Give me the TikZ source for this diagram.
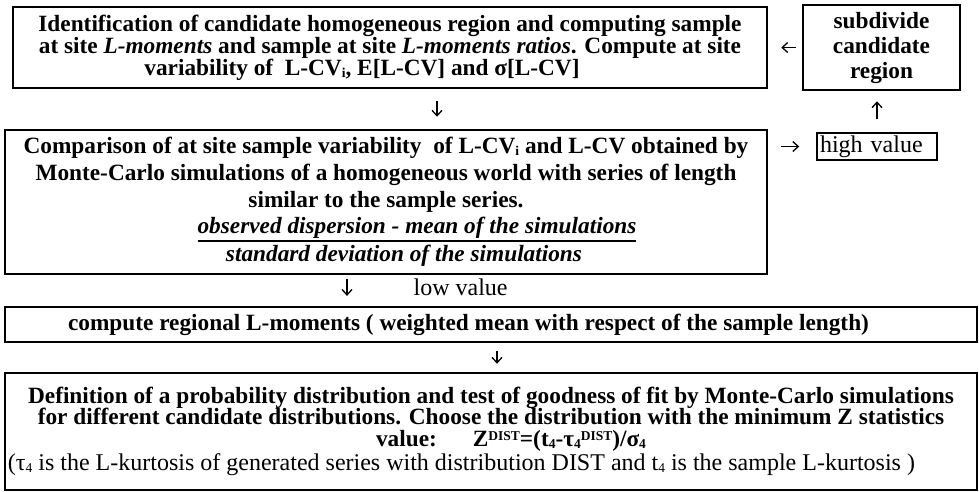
\documentclass[tikz,border=0pt]{standalone}
\usepackage{fontspec}
\setmainfont{Liberation Serif}
\usetikzlibrary{positioning,arrows.meta,calc}
\setlength{\lineskiplimit}{-40pt}

\newcommand{\stepfont}{\fontsize{23.3pt}{22pt}\selectfont\bfseries}
\newcommand{\labelfont}{\fontsize{24pt}{22pt}\selectfont}
% bar under the numerator of the ratio
\newcommand{\ratiotop}[1]{\setbox0=\hbox{#1}\rlap{\rule[-8.5pt]{\wd0}{1.8pt}}\box0}
\newcommand{\up}[1]{\raisebox{6pt}{\fontsize{13.5pt}{13.5pt}\selectfont #1}}
\newcommand{\dn}[1]{\raisebox{-2pt}{\fontsize{13.5pt}{13.5pt}\selectfont #1}}

\tikzset{
    stepbox/.style={
        draw=black, fill=white, line width=2.5pt,
        inner sep=0pt, font=\stepfont, align=center
    },
    valuebox/.style={
        draw=black, fill=white, line width=1.5pt,
        inner xsep=3pt, inner ysep=0pt, font=\labelfont, align=left
    },
    arrow/.style={-{Straight Barb[length=5.5pt,width=10pt]}, line width=1.3pt},
}

\begin{document}
\begin{tikzpicture}[x=1pt, y=-1pt]
    \useasboundingbox (0,0) rectangle (979,491);
    % procedure boxes
    \node[stepbox, minimum width=754pt, minimum height=81pt] (ident) at (390,47.5)
        {Identification of candidate homogeneous region and computing sample\\
         at site \textit{L-moments} and sample at site \textit{L-moments ratios}. Compute at site\\
         variability of\ \ L-CV\dn{i}, E[L-CV] and σ[L-CV]\hspace*{56pt}};
    \node[stepbox, minimum width=157pt, minimum height=85pt, font=\fontsize{23.3pt}{25pt}\selectfont\bfseries] (subdiv) at (881.5,47.5)
        {subdivide\\ candidate\\ region};
    \node[stepbox, minimum width=762pt, minimum height=144pt, font=\fontsize{23.3pt}{26.7pt}\selectfont\bfseries] (compar) at (386,202)
        {Comparison of at site sample variability\ \ of L-CV\dn{i} and L-CV obtained by\\
         Monte-Carlo simulations of a homogeneous world with series of length\\
         similar to the sample series.\\
         \hspace*{62pt}\ratiotop{\textit{observed dispersion - mean of the simulations}}\\[1.3pt]
         \hspace*{36pt}\textit{standard deviation of the simulations}};
    \node[valuebox, text width=114pt, minimum height=27pt] (high) at (877,146.5) {high value};
    \node[stepbox, minimum width=972pt, minimum height=35pt, line width=2.2pt] (regional) at (491,324.5)
        {compute regional L-moments ( weighted mean with respect of the sample length)\hspace*{45pt}};
    \node[stepbox, minimum width=972pt, minimum height=117pt, font=\fontsize{23.3pt}{21pt}\selectfont\bfseries] (defin) at (491,431.5)
        {Definition of a probability distribution and test of goodness of fit by Monte-Carlo simulations\\
         for different candidate distributions. Choose the distribution with the minimum Z statistics\\[1pt]
         \hspace*{40pt}value:\hspace{36pt}Z\up{DIST}=(t\dn{4}-τ\dn{4}\up{DIST})/σ\dn{4}\\[2.5pt]
         \makebox[966pt][l]{\normalfont\labelfont (τ\dn{4} is the L-kurtosis of generated series with distribution DIST and t\dn{4} is the sample L-kurtosis )}};

    % arrows
    \coordinate (dropA) at ([xshift=47pt]ident.south);
    \draw[arrow, shorten <=12pt, shorten >=12pt] (dropA) -- (dropA |- compar.north);
    \draw[arrow, shorten <=6pt, shorten >=13pt] (subdiv.west) -- (subdiv.west -| ident.east);
    \draw[arrow, shorten <=13pt, shorten >=10pt] (high.north) -- (high.north |- subdiv.south);
    \draw[arrow, shorten <=13pt, shorten >=17pt] (high.west -| compar.east) -- (high.west);
    \coordinate (dropB) at ([xshift=-39pt]compar.south);
    \draw[arrow, shorten <=4pt, shorten >=10pt] (dropB) --
        node[anchor=west, inner sep=0pt, xshift=66pt, yshift=3pt, font=\labelfont] (lowlabel) {low value}
        (dropB |- regional.north);
    \coordinate (dropC) at ([xshift=6pt]regional.south);
    \draw[arrow, shorten <=8pt, shorten >=8pt] (dropC) -- (dropC |- defin.north);
\end{tikzpicture}
\end{document}
